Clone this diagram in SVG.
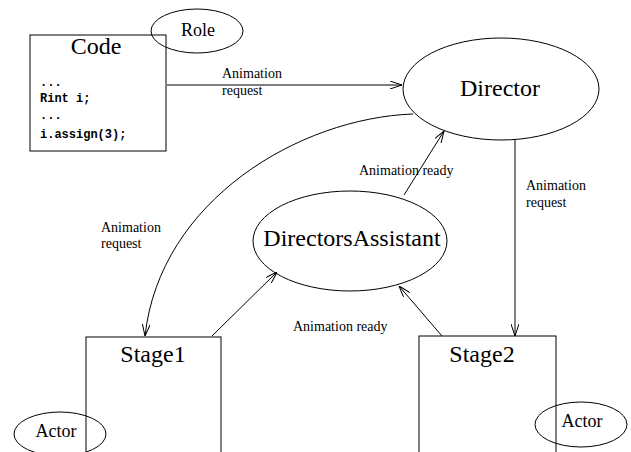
<svg xmlns="http://www.w3.org/2000/svg" width="631" height="452" viewBox="0 0 631 452">
<style>
.s{fill:none;stroke:#000;stroke-width:1}
text{fill:#000}
.big{font-size:24px;text-anchor:middle}
.mid{font-size:18px;text-anchor:middle}
.lbl{font-size:14px}
.code{font-weight:bold;font-size:12px}
</style>
<defs>
<marker id="arr" viewBox="0 0 12 8" refX="12" refY="4" markerWidth="12" markerHeight="8" markerUnits="userSpaceOnUse" orient="auto">
<path d="M0,0 L12,4 L0,8" fill="none" stroke="#000" stroke-width="1"/>
</marker>
</defs>
<rect width="631" height="452" fill="#fff"/>
<g id="connectors">
<line class="s" x1="167" y1="85" x2="402" y2="85" marker-end="url(#arr)"/>
<path class="s" d="M413,114 C300,118 160,200 145,336" marker-end="url(#arr)"/>
<line class="s" x1="404" y1="195" x2="444" y2="131" marker-end="url(#arr)"/>
<line class="s" x1="515" y1="140" x2="515" y2="336" marker-end="url(#arr)"/>
<line class="s" x1="212" y1="336" x2="277" y2="272" marker-end="url(#arr)"/>
<line class="s" x1="442" y1="336" x2="399" y2="286" marker-end="url(#arr)"/>
<g font-family="Liberation Serif, Times New Roman, DejaVu Serif, serif">
<text class="lbl" x="222" y="78">Animation</text>
<text class="lbl" x="222" y="95">request</text>
<text class="lbl" x="359" y="175">Animation ready</text>
<text class="lbl" x="101" y="232">Animation</text>
<text class="lbl" x="101" y="248">request</text>
<text class="lbl" x="526" y="190">Animation</text>
<text class="lbl" x="526" y="207">request</text>
<text class="lbl" x="293" y="331">Animation ready</text>
</g>
</g>
<g id="code">
<rect class="s" x="30" y="35" width="136" height="116"/>
<text class="big" x="96" y="54" font-family="Liberation Serif, Times New Roman, DejaVu Serif, serif">Code</text>
<g font-family="Liberation Mono, Courier New, DejaVu Sans Mono, monospace">
<text class="code" x="40" y="86">...</text>
<text class="code" x="40" y="102">Rint i;</text>
<text class="code" x="40" y="119">...</text>
<text class="code" x="40" y="138">i.assign(3);</text>
</g>
</g>
<g id="role">
<ellipse class="s" cx="197" cy="31" rx="46" ry="22"/>
<text class="mid" x="198" y="36" font-family="Liberation Serif, Times New Roman, DejaVu Serif, serif">Role</text>
</g>
<g id="director">
<ellipse class="s" cx="501" cy="89" rx="98" ry="51"/>
<text class="big" x="500" y="96" font-family="Liberation Serif, Times New Roman, DejaVu Serif, serif">Director</text>
</g>
<g id="assistant">
<ellipse class="s" cx="350" cy="241" rx="97" ry="50"/>
<text class="big" x="352" y="246" font-family="Liberation Serif, Times New Roman, DejaVu Serif, serif">DirectorsAssistant</text>
</g>
<g id="stage1">
<rect class="s" x="86" y="337" width="135" height="130"/>
<text class="big" x="153" y="362" font-family="Liberation Serif, Times New Roman, DejaVu Serif, serif">Stage1</text>
</g>
<g id="stage2">
<rect class="s" x="419" y="336" width="137" height="130"/>
<text class="big" x="482" y="362" font-family="Liberation Serif, Times New Roman, DejaVu Serif, serif">Stage2</text>
</g>
<g id="actor1">
<ellipse class="s" cx="60" cy="434" rx="46" ry="22"/>
<text class="mid" x="56" y="437" font-family="Liberation Serif, Times New Roman, DejaVu Serif, serif">Actor</text>
</g>
<g id="actor2">
<ellipse class="s" cx="581" cy="424.5" rx="46" ry="22.5"/>
<text class="mid" x="582" y="427" font-family="Liberation Serif, Times New Roman, DejaVu Serif, serif">Actor</text>
</g>
</svg>
